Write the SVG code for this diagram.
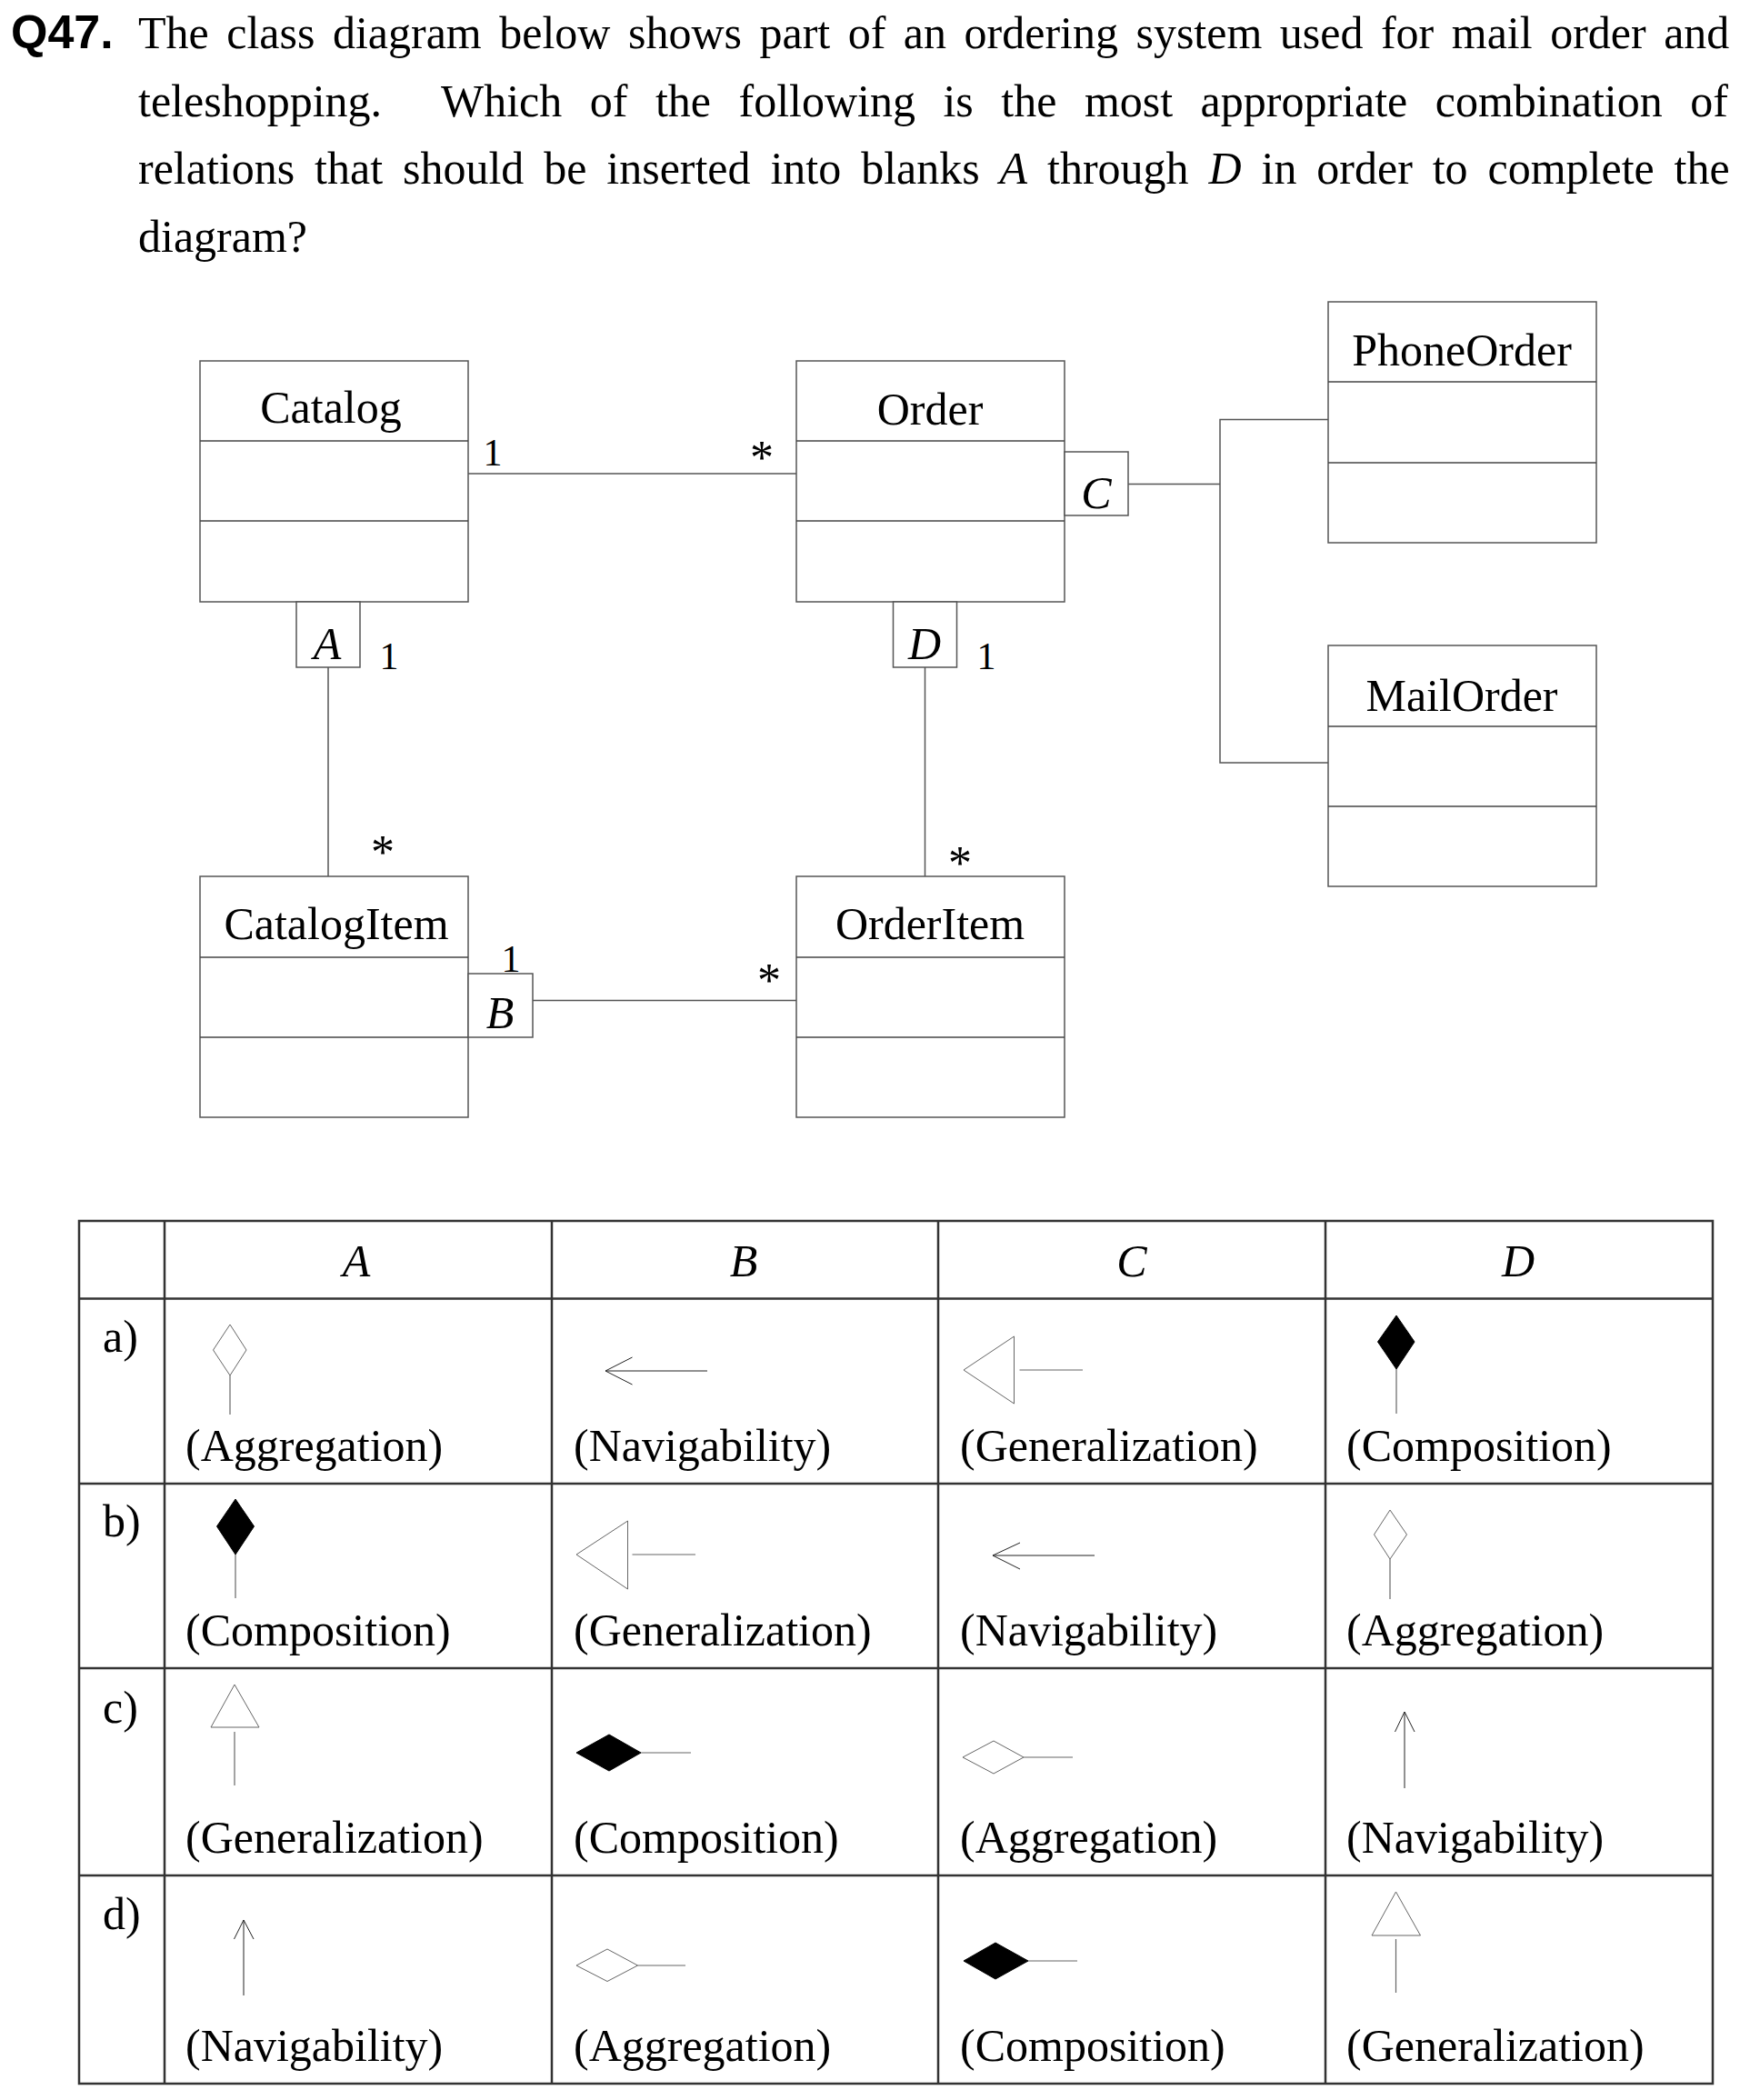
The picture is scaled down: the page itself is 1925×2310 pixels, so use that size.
<svg xmlns="http://www.w3.org/2000/svg" width="1925" height="2310" viewBox="0 0 1925 2310">
<style>
.t{font-family:"Liberation Serif","Times New Roman",serif;font-size:50px;fill:#000}
.m{font-size:42px}
.ast{font-size:52px}
.it{font-style:italic}
.mid{text-anchor:middle}
.box{fill:#fff;stroke:#555;stroke-width:1.5}
.div{stroke:#444;stroke-width:1.5}
.conn{stroke:#555;stroke-width:1.5;fill:none}
.grid{stroke:#333;stroke-width:2.5;fill:none}
.ic{stroke:#666;stroke-width:1;fill:#fff}
.icl{stroke:#666;stroke-width:1.2;fill:none}
.nav{stroke:#222;stroke-width:1;fill:none}
.fill{fill:#000;stroke:#000;stroke-width:1}
</style>
<rect width="1925" height="2310" fill="#fff"/>
<g id="question">
<text x="12" y="53" style="font-family:'Liberation Sans',Arial,sans-serif;font-weight:bold;font-size:52px">Q47.</text>
<text class="t" x="152" y="53" style="word-spacing:7px">The class diagram below shows part of an ordering system used for mail order and</text>
<text class="t" x="152" y="128">teleshopping.</text>
<text class="t" x="485" y="128" style="word-spacing:18px">Which of the following is the most appropriate combination of</text>
<text class="t" x="152" y="202" style="word-spacing:9.4px">relations that should be inserted into blanks <tspan class="it">A</tspan> through <tspan class="it">D</tspan> in order to complete the</text>
<text class="t" x="152" y="277">diagram?</text>
</g>
<g id="connectors">
<line class="conn" x1="515" y1="521" x2="876" y2="521"/>
<line class="conn" x1="361" y1="734" x2="361" y2="964"/>
<line class="conn" x1="1017.5" y1="734" x2="1017.5" y2="964"/>
<line class="conn" x1="586" y1="1100.5" x2="876" y2="1100.5"/>
<polyline class="conn" points="1241,532.5 1342,532.5"/>
<polyline class="conn" points="1461,461.5 1342,461.5 1342,839 1461,839"/>
<text class="t m mid" x="542" y="512">1</text>
<text class="t ast mid" x="838" y="521">*</text>
<text class="t m mid" x="428" y="736">1</text>
<text class="t ast mid" x="421" y="955">*</text>
<text class="t m mid" x="562" y="1069">1</text>
<text class="t ast mid" x="846" y="1096">*</text>
<text class="t m mid" x="1085" y="736">1</text>
<text class="t ast mid" x="1056" y="967">*</text>
</g>
<g id="Catalog">
<rect class="box" x="220" y="397" width="295" height="265"/>
<line class="div" x1="220" y1="485" x2="515" y2="485"/>
<line class="div" x1="220" y1="573" x2="515" y2="573"/>
<text class="t mid" x="364" y="465">Catalog</text>
</g>
<g id="Order">
<rect class="box" x="876" y="397" width="295" height="265"/>
<line class="div" x1="876" y1="485" x2="1171" y2="485"/>
<line class="div" x1="876" y1="573" x2="1171" y2="573"/>
<text class="t mid" x="1023" y="467">Order</text>
</g>
<g id="CatalogItem">
<rect class="box" x="220" y="964" width="295" height="265"/>
<line class="div" x1="220" y1="1053" x2="515" y2="1053"/>
<line class="div" x1="220" y1="1141" x2="515" y2="1141"/>
<text class="t mid" x="370" y="1033">CatalogItem</text>
</g>
<g id="OrderItem">
<rect class="box" x="876" y="964" width="295" height="265"/>
<line class="div" x1="876" y1="1053" x2="1171" y2="1053"/>
<line class="div" x1="876" y1="1141" x2="1171" y2="1141"/>
<text class="t mid" x="1023" y="1033">OrderItem</text>
</g>
<g id="PhoneOrder">
<rect class="box" x="1461" y="332" width="295" height="265"/>
<line class="div" x1="1461" y1="420" x2="1756" y2="420"/>
<line class="div" x1="1461" y1="509" x2="1756" y2="509"/>
<text class="t mid" x="1608" y="402">PhoneOrder</text>
</g>
<g id="MailOrder">
<rect class="box" x="1461" y="710" width="295" height="265"/>
<line class="div" x1="1461" y1="799" x2="1756" y2="799"/>
<line class="div" x1="1461" y1="887" x2="1756" y2="887"/>
<text class="t mid" x="1608" y="782">MailOrder</text>
</g>
<g id="blankA">
<rect class="box" x="326" y="662" width="70" height="72"/>
<text class="t it mid" x="360" y="725">A</text>
</g>
<g id="blankD">
<rect class="box" x="982.5" y="662" width="70" height="72"/>
<text class="t it mid" x="1017" y="725">D</text>
</g>
<g id="blankB">
<rect class="box" x="515" y="1071" width="71" height="70"/>
<text class="t it mid" x="550" y="1131">B</text>
</g>
<g id="blankC">
<rect class="box" x="1171" y="497" width="70" height="70"/>
<text class="t it mid" x="1206" y="559">C</text>
</g>
<g id="answer-table">
<rect class="grid" x="87" y="1343" width="1797" height="949"/>
<line class="grid" x1="181" y1="1343" x2="181" y2="2292"/>
<line class="grid" x1="607" y1="1343" x2="607" y2="2292"/>
<line class="grid" x1="1032" y1="1343" x2="1032" y2="2292"/>
<line class="grid" x1="1458" y1="1343" x2="1458" y2="2292"/>
<line class="grid" x1="87" y1="1428.5" x2="1884" y2="1428.5"/>
<line class="grid" x1="87" y1="1632" x2="1884" y2="1632"/>
<line class="grid" x1="87" y1="1835" x2="1884" y2="1835"/>
<line class="grid" x1="87" y1="2063" x2="1884" y2="2063"/>
<text class="t it mid" x="392" y="1404">A</text>
<text class="t it mid" x="818" y="1404">B</text>
<text class="t it mid" x="1245" y="1404">C</text>
<text class="t it mid" x="1670" y="1404">D</text>
<text class="t" x="113" y="1487">a)</text>
<text class="t" x="113" y="1690">b)</text>
<text class="t" x="113" y="1895">c)</text>
<text class="t" x="113" y="2122">d)</text>
<!-- row a -->
<polygon class="ic" points="253,1457 271,1485 253,1513 234.5,1485"/>
<line class="icl" x1="253" y1="1513" x2="253" y2="1556"/>
<line class="nav" x1="666" y1="1508" x2="778" y2="1508"/>
<polyline class="nav" points="695.5,1493 666,1508 695.5,1523"/>
<polygon class="ic" points="1060,1507 1115.5,1470 1115.5,1544"/>
<line class="icl" x1="1121.5" y1="1507" x2="1191" y2="1507"/>
<polygon class="fill" points="1536,1447 1556,1476 1536,1506 1515.5,1476"/>
<line class="icl" x1="1536" y1="1506" x2="1536" y2="1555"/>
<text class="t" x="204" y="1607">(Aggregation)</text>
<text class="t" x="631" y="1607">(Navigability)</text>
<text class="t" x="1056" y="1607">(Generalization)</text>
<text class="t" x="1481" y="1607">(Composition)</text>
<!-- row b -->
<polygon class="fill" points="259,1649 279.5,1679 259,1710 238.5,1679"/>
<line class="icl" x1="259" y1="1710" x2="259" y2="1758"/>
<polygon class="ic" points="634,1710 690.5,1673 690.5,1748"/>
<line class="icl" x1="695.5" y1="1710" x2="765" y2="1710"/>
<line class="nav" x1="1092" y1="1711" x2="1204" y2="1711"/>
<polyline class="nav" points="1122,1697 1092,1711 1122,1726"/>
<polygon class="ic" points="1529,1661 1547.5,1688 1529,1715 1511.5,1688"/>
<line class="icl" x1="1529" y1="1715" x2="1529" y2="1759"/>
<text class="t" x="204" y="1810">(Composition)</text>
<text class="t" x="631" y="1810">(Generalization)</text>
<text class="t" x="1056" y="1810">(Navigability)</text>
<text class="t" x="1481" y="1810">(Aggregation)</text>
<!-- row c -->
<polygon class="ic" points="258,1853 285,1900 232,1900"/>
<line class="icl" x1="258" y1="1905" x2="258" y2="1964"/>
<polygon class="fill" points="634,1928 670,1908 705,1928 670,1948"/>
<line class="icl" x1="705" y1="1928" x2="760" y2="1928"/>
<polygon class="ic" points="1059,1933 1093,1915 1126,1933 1093,1951"/>
<line class="icl" x1="1126" y1="1933" x2="1180" y2="1933"/>
<line class="nav" x1="1545" y1="1883" x2="1545" y2="1967"/>
<polyline class="nav" points="1534.5,1905 1545,1883 1556,1905"/>
<text class="t" x="204" y="2038">(Generalization)</text>
<text class="t" x="631" y="2038">(Composition)</text>
<text class="t" x="1056" y="2038">(Aggregation)</text>
<text class="t" x="1481" y="2038">(Navigability)</text>
<!-- row d -->
<line class="nav" x1="268" y1="2112" x2="268" y2="2195"/>
<polyline class="nav" points="257.5,2133 268,2112 279,2133"/>
<polygon class="ic" points="634,2162 668,2144 701.5,2162 668,2179.5"/>
<line class="icl" x1="701.5" y1="2162" x2="754" y2="2162"/>
<polygon class="fill" points="1060,2157 1095,2137 1131,2157 1095,2177"/>
<line class="icl" x1="1131" y1="2157" x2="1185" y2="2157"/>
<polygon class="ic" points="1535.5,2081 1562.5,2129 1509,2129"/>
<line class="icl" x1="1535.5" y1="2133" x2="1535.5" y2="2192"/>
<text class="t" x="204" y="2267">(Navigability)</text>
<text class="t" x="631" y="2267">(Aggregation)</text>
<text class="t" x="1056" y="2267">(Composition)</text>
<text class="t" x="1481" y="2267">(Generalization)</text>
</g>
</svg>
